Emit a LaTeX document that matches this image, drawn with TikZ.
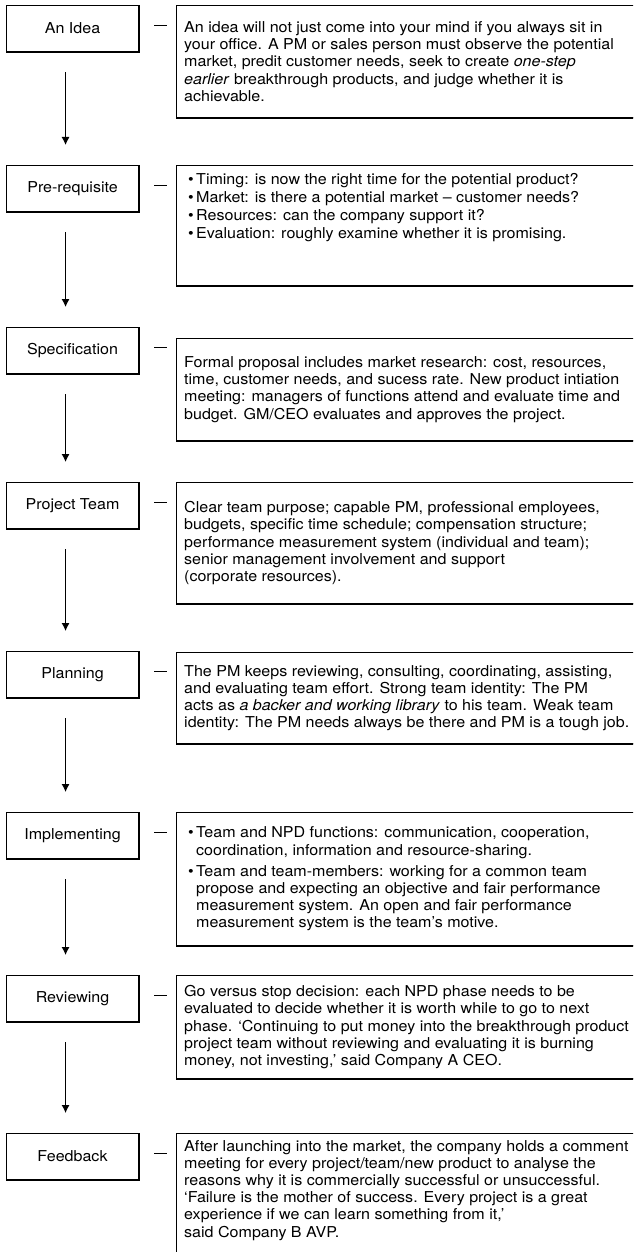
\documentclass[tikz,border=0pt]{standalone}
\usepackage{fontspec}
\setmainfont{TeX Gyre Heros}[FakeStretch=1.07]
\usetikzlibrary{arrows.meta}
\newcommand\bodyfont{\fontsize{15}{17.2}\selectfont}
\newcommand\bitem{\hspace*{4pt}\makebox[8pt][l]{\textbullet}}
\newcommand\bcont{\hspace*{12pt}}

\begin{document}
\begin{tikzpicture}[x=1pt,y=-1pt,
  stepbox/.style={draw, line width=1.1pt, minimum width=132pt, minimum height=46pt,
    anchor=north west, inner sep=0pt, font=\bodyfont},
  notebox/.style={draw, line width=1.1pt, minimum width=480pt, anchor=north west},
  notetext/.style={align=left, inner sep=0pt, font=\bodyfont},
  flow/.style={line width=1pt, -{Latex[length=8pt,width=8pt]},
    shorten <=20pt, shorten >=20pt},
  bar/.style={line width=1.6pt},
  rim/.style={line width=1.8pt}]

\useasboundingbox (0,0) rectangle (633,1252);
\clip (0,0) rectangle (633,1252);

% stage boxes on the left
\node[stepbox] (a1) at (6,5)    {An Idea};
\node[stepbox] (a2) at (6,165)  {Pre-requisite};
\node[stepbox] (a3) at (6,327)  {Specification};
\node[stepbox] (a4) at (6,482)  {Project Team};
\node[stepbox] (a5) at (6,651)  {Planning};
\node[stepbox] (a6) at (6,812)  {Implementing};
\node[stepbox] (a7) at (6,975)  {Reviewing};
\node[stepbox] (a8) at (6,1133) {Feedback};

\foreach \n in {a1,a2,a3,a4,a5,a6,a7,a8}
  \draw[rim] (\n.south west) -| (\n.north east);

% downward flow between stages
\foreach \p/\q in {a1/a2,a2/a3,a3/a4,a4/a5,a5/a6,a6/a7,a7/a8}
  \draw[flow] ([xshift=-7pt]\p.south) -- ([xshift=-7pt]\q.north);

% short bars linking each stage to its note
\foreach \n in {a1,a2,a3,a4,a5,a6,a7,a8}
  \draw[bar] ([xshift=15pt,yshift=3pt]\n.east) -- ([xshift=28pt,yshift=3pt]\n.east);

% note boxes on the right
\node[notebox, minimum height=112pt] (r1) at (176,5)    {};
\node[notebox, minimum height=120pt] (r2) at (176,165)  {};
\node[notebox, minimum height=102pt] (r3) at (176,338)  {};
\node[notebox, minimum height=121pt] (r4) at (176,482)  {};
\node[notebox, minimum height=91pt]  (r5) at (176,652)  {};
\node[notebox, minimum height=133pt] (r6) at (176,812)  {};
\node[notebox, minimum height=103pt] (r7) at (176,975)  {};
\node[notebox, minimum height=140pt] (r8) at (176,1133) {};

\foreach \n in {r1,r2,r3,r4,r5,r6,r7}
  \draw[rim] (\n.south west) -- (\n.south east);

% note texts
\node[notetext, anchor=west] (t1) at ([xshift=8pt]r1.west)
  {An idea will not just come into your mind if you always sit in\\
   your office. A PM or sales person must observe the potential\\
   market, predit customer needs, seek to create \textit{one-step}\\
   \textit{earlier} breakthrough products, and judge whether it is\\
   achievable.};

\node[notetext, anchor=north west] (t2) at ([xshift=8pt,yshift=-8pt]r2.north west)
  {\bitem Timing: is now the right time for the potential product?\\[1pt]
   \bitem Market: is there a potential market – customer needs?\\[1pt]
   \bitem Resources: can the company support it?\\[1pt]
   \bitem Evaluation: roughly examine whether it is promising.};

\node[notetext, anchor=west] (t3) at ([xshift=8pt]r3.west)
  {Formal proposal includes market research: cost, resources,\\
   time, customer needs, and sucess rate. New product intiation\\
   meeting: managers of functions attend and evaluate time and\\
   budget. GM/CEO evaluates and approves the project.};

\node[notetext, anchor=west] (t4) at ([xshift=8pt]r4.west)
  {Clear team purpose; capable PM, professional employees,\\
   budgets, specific time schedule; compensation structure;\\
   performance measurement system (individual and team);\\
   senior management involvement and support\\
   (corporate resources).};

\node[notetext, anchor=west] (t5) at ([xshift=8pt]r5.west)
  {The PM keeps reviewing, consulting, coordinating, assisting,\\
   and evaluating team effort. Strong team identity: The PM\\
   acts as \textit{a backer and working library} to his team. Weak team\\
   identity: The PM needs always be there and PM is a tough job.};

\node[notetext, anchor=west] (t6) at ([xshift=8pt]r6.west)
  {\bitem Team and NPD functions: communication, cooperation,\\
   \bcont coordination, information and resource-sharing.\\[4pt]
   \bitem Team and team-members: working for a common team\\
   \bcont propose and expecting an objective and fair performance\\
   \bcont measurement system. An open and fair performance\\
   \bcont measurement system is the team’s motive.};

\node[notetext, anchor=west] (t7) at ([xshift=8pt]r7.west)
  {Go versus stop decision: each NPD phase needs to be\\
   evaluated to decide whether it is worth while to go to next\\
   phase. ‘Continuing to put money into the breakthrough product\\
   project team without reviewing and evaluating it is burning\\
   money, not investing,’ said Company A CEO.};

\node[notetext, anchor=north west] (t8) at ([xshift=8pt,yshift=-7pt]r8.north west)
  {After launching into the market, the company holds a comment\\
   meeting for every project/team/new product to analyse the\\
   reasons why it is commercially successful or unsuccessful.\\
   ‘Failure is the mother of success. Every project is a great\\
   experience if we can learn something from it,’\\
   said Company B AVP.};
\end{tikzpicture}
\end{document}
